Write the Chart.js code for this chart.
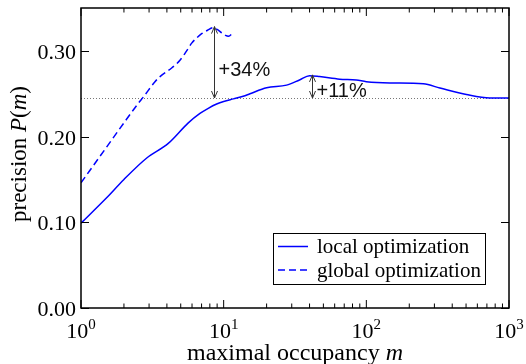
<!DOCTYPE html>
<html>
<head>
<meta charset="utf-8">
<title>precision vs maximal occupancy</title>
<script src="https://cdn.jsdelivr.net/npm/chart.js@4.4.1/dist/chart.umd.min.js"></script>
<style>
  body { margin: 0; background: #fff; }
  canvas { display: block; }
</style>
</head>
<body>
<canvas id="my-chart" width="526" height="364"></canvas>
<script>
'use strict';

// ******* DATA *********
let mLocal = [1, 1.5, 2, 2.89, 4.09, 5.65, 6.82, 7.8, 8.93, 10, 11.7, 13.7, 15.3, 20, 27.6, 34, 40, 47, 65, 85, 100, 146, 251, 328, 503, 735, 1000];
let pLocal = [0.099, 0.128, 0.150, 0.175, 0.192, 0.216, 0.227, 0.233, 0.238, 0.241, 0.244, 0.247, 0.250, 0.257, 0.260, 0.266, 0.271, 0.270, 0.267, 0.266, 0.264, 0.2625, 0.2616, 0.2566, 0.249, 0.245, 0.245];

let mGlobal = [1, 1.5, 2, 2.5, 2.73, 3.3, 3.58, 4.32, 4.94, 5.5, 5.97, 6.46, 7.01, 7.7, 8.46, 9.0, 9.68, 10.3, 10.8, 11.7];
let pGlobal = [0.146, 0.187, 0.216, 0.238, 0.246, 0.264, 0.270, 0.280, 0.289, 0.300, 0.309, 0.315, 0.320, 0.324, 0.327, 0.325, 0.321, 0.318, 0.317, 0.322];

let seriesNames = ['local optimization', 'global optimization'];

let yTicks = [0, 0.1, 0.2, 0.3];
let yTickLabels = ['0.00', '0.10', '0.20', '0.30'];
let xDecades = [1, 10, 100, 1000];
let xExponents = ['0', '1', '2', '3'];

// dotted baseline and the gains marked against it
let refLevel = 0.245;
let gainPct = [34, 11];
let gainAt = [8.55, 41.4];

// ******* FONTS / STYLE ********
let serif = '"Liberation Serif", "Times New Roman", serif';
let sans = '"Liberation Sans", Arial, sans-serif';
let lineBlue = '#0000ff';

let ctx = document.getElementById('my-chart');

// ****** HELPERS ******
function toPoints(xs, ys) {
  let pts = [];
  for (let i = 0; i < xs.length; i++) {
    pts.push({ x: xs[i], y: ys[i] });
  }
  return pts;
}

// draws a run of [text, italic] pieces, centred on x
function drawRich(c, parts, x, y, size) {
  let total = 0;
  for (let i = 0; i < parts.length; i++) {
    c.font = (parts[i][1] ? 'italic ' : '') + size + 'px ' + serif;
    total += c.measureText(parts[i][0]).width;
  }
  let cur = x - total / 2;
  c.textAlign = 'left';
  for (let i = 0; i < parts.length; i++) {
    c.font = (parts[i][1] ? 'italic ' : '') + size + 'px ' + serif;
    c.fillText(parts[i][0], cur, y);
    cur += c.measureText(parts[i][0]).width;
  }
}

function arrowHead(c, x, y, dir) {
  c.beginPath();
  c.moveTo(x - 3, y + dir * 7);
  c.lineTo(x, y);
  c.lineTo(x + 3, y + dir * 7);
  c.stroke();
}

// ****** AXES / FRAME / ANNOTATION PLUGIN ******
let axesPlugin = {
  id: 'axesFrame',
  beforeDatasetsDraw(chart) {
    let c = chart.ctx;
    let a = chart.chartArea;
    let yRef = chart.scales.y.getPixelForValue(refLevel);
    c.save();
    c.strokeStyle = '#777';
    c.lineWidth = 1;
    c.setLineDash([1, 2]);
    c.beginPath();
    c.moveTo(a.left, Math.round(yRef) + 0.5);
    c.lineTo(a.right, Math.round(yRef) + 0.5);
    c.stroke();
    c.restore();
  },
  afterDatasetsDraw(chart) {
    let c = chart.ctx;
    let a = chart.chartArea;
    let xs = chart.scales.x;
    let ys = chart.scales.y;
    c.save();
    c.fillStyle = '#000';
    c.strokeStyle = '#000';

    // frame
    c.lineWidth = 1.5;
    c.strokeRect(a.left, a.top, a.right - a.left, a.bottom - a.top);

    // x ticks, bottom and top, pointing inward
    c.lineWidth = 1;
    c.beginPath();
    for (let d = 0; d < xDecades.length; d++) {
      let px = xs.getPixelForValue(xDecades[d]);
      c.moveTo(px, a.bottom); c.lineTo(px, a.bottom - 8);
      c.moveTo(px, a.top); c.lineTo(px, a.top + 8);
      if (d < xDecades.length - 1) {
        for (let k = 2; k <= 9; k++) {
          let mx = xs.getPixelForValue(xDecades[d] * k);
          c.moveTo(mx, a.bottom); c.lineTo(mx, a.bottom - 4.5);
          c.moveTo(mx, a.top); c.lineTo(mx, a.top + 4.5);
        }
      }
    }
    // y ticks, left and right
    for (let i = 0; i < yTicks.length; i++) {
      let py = Math.round(ys.getPixelForValue(yTicks[i])) + 0.5;
      c.moveTo(a.left, py); c.lineTo(a.left + 8, py);
      c.moveTo(a.right, py); c.lineTo(a.right - 8, py);
    }
    c.stroke();

    // y tick labels
    c.font = '22px ' + serif;
    c.textAlign = 'right';
    c.textBaseline = 'alphabetic';
    for (let i = 0; i < yTicks.length; i++) {
      let py = ys.getPixelForValue(yTicks[i]);
      c.fillText(yTickLabels[i], a.left - 5, py + 8);
    }

    // x tick labels as 10^n
    for (let d = 0; d < xDecades.length; d++) {
      let px = xs.getPixelForValue(xDecades[d]);
      c.font = '22px ' + serif;
      let wBase = c.measureText('10').width;
      c.font = '15px ' + serif;
      let wExp = c.measureText(xExponents[d]).width;
      let x0 = px - (wBase + wExp) / 2;
      c.textAlign = 'left';
      c.font = '22px ' + serif;
      c.fillText('10', x0, a.bottom + 30);
      c.font = '15px ' + serif;
      c.fillText(xExponents[d], x0 + wBase, a.bottom + 21);
    }

    // axis titles
    drawRich(c, [['maximal occupancy ', false], ['m', true]], (a.left + a.right) / 2, 360, 24);
    c.save();
    c.translate(26, (a.top + a.bottom) / 2 - 4);
    c.rotate(-Math.PI / 2);
    drawRich(c, [['precision ', false], ['P', true], ['(', false], ['m', true], [')', false]], 0, 0, 23);
    c.restore();

    // gain arrows from the dotted line up to each peak
    let yRef = ys.getPixelForValue(refLevel);
    let labelDy = [-22, -1];
    c.strokeStyle = '#333';
    c.fillStyle = '#111';
    c.lineWidth = 1;
    for (let i = 0; i < gainPct.length; i++) {
      let px = Math.round(xs.getPixelForValue(gainAt[i])) + 0.5;
      let yTop = ys.getPixelForValue(refLevel * (1 + gainPct[i] / 100));
      c.beginPath();
      c.moveTo(px, yRef);
      c.lineTo(px, yTop);
      c.stroke();
      arrowHead(c, px, yTop, 1);
      arrowHead(c, px, yRef, -1);
      c.font = '20px ' + sans;
      c.textAlign = 'left';
      c.fillText('+' + gainPct[i] + '%', px + 4, yRef + labelDy[i]);
    }

    // legend box
    let lx = a.right - 236;
    let ly = a.bottom - 75;
    c.strokeStyle = '#000';
    c.fillStyle = '#000';
    c.lineWidth = 1;
    c.strokeRect(lx + 0.5, ly + 0.5, 212, 51);
    let ds = chart.data.datasets;
    for (let i = 0; i < ds.length; i++) {
      let rowY = ly + 13.5 + i * 23.5;
      c.strokeStyle = ds[i].borderColor;
      c.lineWidth = ds[i].borderWidth;
      c.setLineDash(ds[i].borderDash || []);
      c.beginPath();
      c.moveTo(lx + 5, rowY);
      c.lineTo(lx + 35, rowY);
      c.stroke();
      c.setLineDash([]);
      c.font = '21px ' + serif;
      c.fillText(ds[i].label, lx + 44, rowY + 6.5);
    }
    c.restore();
  }
};

// ****** CHART ******
new Chart(ctx, { //eslint-disable-line
  type: 'line',
  data: {
    datasets: [{
      label: seriesNames[0],
      data: toPoints(mLocal, pLocal),
      borderColor: lineBlue,
      borderWidth: 1.5,
      pointRadius: 0,
      fill: false,
      cubicInterpolationMode: 'monotone'
    },
    {
      label: seriesNames[1],
      data: toPoints(mGlobal, pGlobal),
      borderColor: lineBlue,
      borderWidth: 1.5,
      borderDash: [7, 4],
      pointRadius: 0,
      fill: false,
      cubicInterpolationMode: 'monotone'
    }]
  },
  options: {
    responsive: false,
    animation: false,
    devicePixelRatio: 1,
    layout: { padding: { left: 81, right: 17, top: 8, bottom: 56 } },
    scales: {
      x: { type: 'logarithmic', min: 1, max: 1000, display: false },
      y: { type: 'linear', min: 0, max: 0.35, display: false }
    },
    plugins: {
      legend: { display: false },
      tooltip: { enabled: false }
    }
  },
  plugins: [axesPlugin]
});
</script>
</body>
</html>
